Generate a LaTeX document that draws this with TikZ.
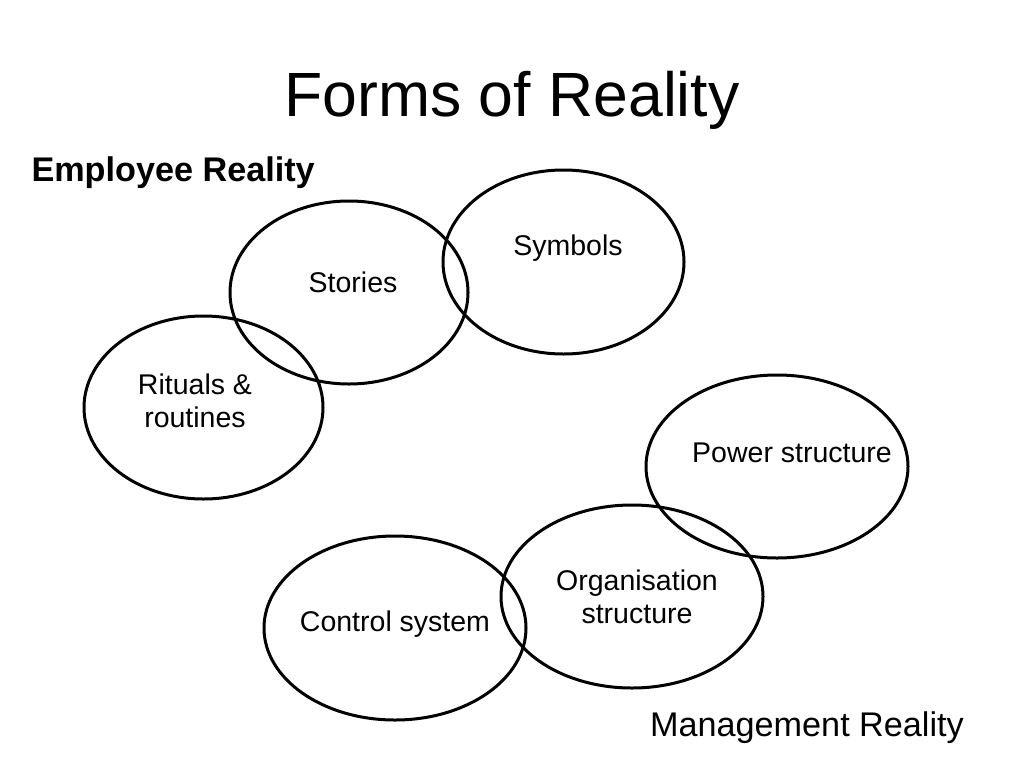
\documentclass[tikz,border=0pt]{standalone}
\usepackage{fontspec}
\setmainfont{Liberation Sans}
\usepackage{xcolor}

\begin{document}
\begin{tikzpicture}[x=1pt,y=-1pt,
    blob/.style={line width=3pt},
    word/.style={font=\fontsize{28.5}{33}\selectfont, align=center}]
    % Page
    \useasboundingbox (0,0) rectangle (1024,768);
    \fill[white] (0,0) rectangle (1024,768);

    % Title
    \node (title) at (512,100) {\fontsize{62.5}{70}\selectfont Forms of Reality};
    \node[anchor=west] (employee) at (28,173) {\fontsize{34.2}{38}\selectfont\bfseries Employee Reality};
    \node (management) at (807,728) {\fontsize{34.2}{38}\selectfont Management Reality};

    % Employee side
    \draw[blob] (563.5,262) ellipse [x radius=120.5pt, y radius=92pt];
    \draw[blob] (349,292.5) ellipse [x radius=119pt, y radius=91.5pt];
    \draw[blob] (203.5,407.5) ellipse [x radius=119.5pt, y radius=91.5pt];
    \node[word] (symbols) at (568,248) {Symbols};
    \node[word] (stories) at (353,282) {Stories};
    \node[word] (rituals) at (195,401) {Rituals \&\\routines};

    % Management side
    \draw[blob] (777,466.5) ellipse [x radius=131pt, y radius=91.5pt];
    \draw[blob] (632,596.5) ellipse [x radius=131pt, y radius=91.5pt];
    \draw[blob] (395,628) ellipse [x radius=131pt, y radius=92pt];
    \node[word] (power) at (792,453) {Power structure};
    \node[word] (organisation) at (637,597) {Organisation\\structure};
    \node[word] (control) at (395,624) {Control system};
\end{tikzpicture}
\end{document}
